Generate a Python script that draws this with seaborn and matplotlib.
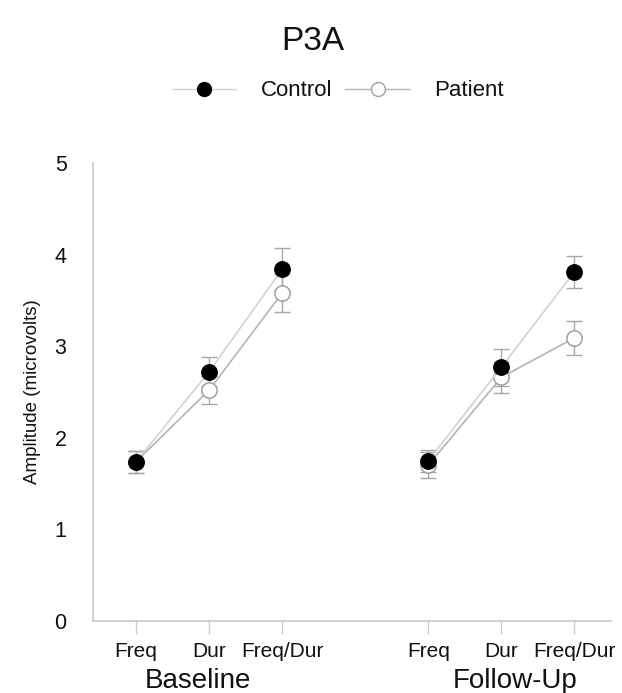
import numpy as np
import pandas as pd
import matplotlib
matplotlib.use("Agg")
import matplotlib.pyplot as plt
from matplotlib.lines import Line2D
import seaborn as sns

conditions = ["Freq", "Dur", "Freq/Dur"]
sessions = ["Baseline", "Follow-Up"]
groups = ["Control", "Patient"]

control_baseline = [1.74, 2.72, 3.84]
control_followup = [1.75, 2.77, 3.81]
patient_baseline = [1.74, 2.52, 3.58]
patient_followup = [1.70, 2.66, 3.09]

control_baseline_err = [0.12, 0.16, 0.23]
control_followup_err = [0.12, 0.20, 0.18]
patient_baseline_err = [0.12, 0.15, 0.21]
patient_followup_err = [0.14, 0.17, 0.19]

x_pos = {"Baseline": [0, 1, 2], "Follow-Up": [4, 5, 6]}

rows = []
for grp, vals_b, vals_f, err_b, err_f in [
    ("Control", control_baseline, control_followup, control_baseline_err, control_followup_err),
    ("Patient", patient_baseline, patient_followup, patient_baseline_err, patient_followup_err),
]:
    for sess, vals, errs in [("Baseline", vals_b, err_b), ("Follow-Up", vals_f, err_f)]:
        for i, cond in enumerate(conditions):
            rows.append({"group": grp, "session": sess, "condition": cond,
                         "x": x_pos[sess][i], "amp": vals[i], "err": errs[i]})
df = pd.DataFrame(rows)

sns.set_style("white")
plt.rcParams["font.family"] = ["Liberation Sans", "DejaVu Sans"]
plt.rcParams["text.color"] = "#111111"
plt.rcParams["xtick.labelcolor"] = "#111111"
plt.rcParams["ytick.labelcolor"] = "#111111"
plt.rcParams["axes.labelcolor"] = "#111111"

fig = plt.figure(figsize=(6.22, 6.93), dpi=100)
ax = fig.add_axes([0.1495, 0.1039, 0.8325, 0.6609])

styles = {
    "Control": dict(color="#d2d2d2", mfc="black", mec="black", z=3),
    "Patient": dict(color="#b4b4b4", mfc="white", mec="#a0a0a0", z=2),
}

# error bars first, behind markers
for grp in groups:
    sub = df[df.group == grp]
    ax.errorbar(sub.x, sub.amp, yerr=sub.err, fmt="none", ecolor="#a8a8a8",
                elinewidth=1, capsize=5.5, capthick=1, zorder=1)

for grp in ["Patient", "Control"]:
    st = styles[grp]
    for sess in sessions:
        sub = df[(df.group == grp) & (df.session == sess)]
        sns.lineplot(data=sub, x="x", y="amp", ax=ax, color=st["color"], linewidth=1.2,
                     marker="o", markersize=11, markerfacecolor=st["mfc"],
                     markeredgecolor=st["mec"], markeredgewidth=1.1, zorder=st["z"],
                     estimator=None, sort=False, legend=False)

ax.set_xlim(-0.59, 6.5)
ax.set_ylim(0, 5)
ax.set_yticks([0, 1, 2, 3, 4, 5])
ax.set_xticks(x_pos["Baseline"] + x_pos["Follow-Up"])
ax.set_xticklabels(conditions + conditions)
ax.tick_params(axis="x", length=9, width=1, color="#cccccc", labelsize=15, pad=6, bottom=True)
ax.tick_params(axis="y", length=0, labelsize=15.5, pad=19)
ax.set_xlabel("")
ax.set_ylabel("Amplitude (microvolts)", fontsize=13.5, labelpad=10)

for side in ["top", "right"]:
    ax.spines[side].set_visible(False)
for side in ["left", "bottom"]:
    ax.spines[side].set_color("#cccccc")
    ax.spines[side].set_linewidth(1.3)

ax.text(0.85, -0.13, "Baseline", transform=ax.get_xaxis_transform(),
        ha="center", va="center", fontsize=20)
ax.text(5.19, -0.13, "Follow-Up", transform=ax.get_xaxis_transform(),
        ha="center", va="center", fontsize=20)

fig.text(0.503, 0.94, "P3A", ha="center", va="center", fontsize=24)

handles = [
    Line2D([], [], color=styles[g]["color"], marker="o", markersize=10,
           markerfacecolor=styles[g]["mfc"], markeredgecolor=styles[g]["mec"], linewidth=1)
    for g in groups
]
fig.legend(handles, groups, loc="center", bbox_to_anchor=(0.543, 0.869), ncol=2,
           frameon=False, fontsize=16, handlelength=2.9, handletextpad=1.1,
           columnspacing=0.6)

fig.savefig("out.png", dpi=100)
